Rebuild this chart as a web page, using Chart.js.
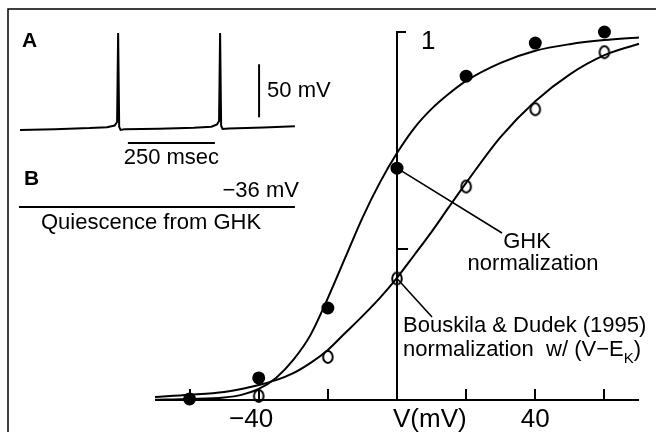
<!DOCTYPE html>
<html>
<head>
<meta charset="utf-8">
<script src="https://cdn.jsdelivr.net/npm/chart.js@4.4.1/dist/chart.umd.min.js"></script>
<style>
  html, body { margin: 0; padding: 0; background: #fff; }
  #wrap { position: relative; width: 656px; height: 432px; overflow: hidden; }
  #wrap canvas { position: absolute; left: 0; top: 0; }
</style>
</head>
<body>
<div id="wrap">
  <canvas id="mainChart" width="656" height="432"></canvas>
  <canvas id="traceA" width="656" height="432"></canvas>
  <canvas id="traceB" width="656" height="432"></canvas>
</div>
<script>
// Normalized conductance vs voltage (main plot)
var ghkVoltages = [-60, -40, -20, 0, 20, 40, 60];
var ghkPoints   = [0.003, 0.06, 0.25, 0.63, 0.88, 0.97, 1.0];
var bdVoltages  = [-40, -20, 0, 20, 40, 60];
var bdPoints    = [0.011, 0.117, 0.33, 0.58, 0.79, 0.945];

// fitted curves
var curveV   = [-70, -60, -50, -45, -40, -35, -30, -25, -20, -15, -10, -5, 0, 5, 10, 15, 20, 30, 40, 50, 60, 70];
var ghkCurve = [0.001, 0.003, 0.007, 0.014, 0.030, 0.060, 0.109, 0.177, 0.277, 0.386, 0.495, 0.590,
                0.671, 0.739, 0.791, 0.832, 0.867, 0.916, 0.949, 0.967, 0.978, 0.985];
var bdCurve  = [0.008, 0.014, 0.022, 0.030, 0.041, 0.054, 0.073, 0.101, 0.136, 0.182, 0.228, 0.277,
                0.332, 0.394, 0.457, 0.524, 0.590, 0.715, 0.812, 0.885, 0.937, 0.968];

var xTicks      = [-60, -40, -20, 0, 20, 40, 60];
var xTickLabels = { '-40': '\u221240', '40': '40' };
var yTicks      = [0.41, 1];
var yTickLabels = { '1': '1' };

// Panel A: membrane potential trace (msec, mV)
var traceTime = [0, 100, 200, 250, 272, 279, 282, 285, 289, 300, 400, 500, 550, 566, 572, 575, 578, 582, 600, 700, 790];
var traceMv   = [-60, -59.2, -58.2, -57.3, -55.8, -52.5, 31.5, -57, -60, -59.4, -58.8, -57.8, -56.9, -54.8, -51.5, 31.5,
                 -56, -59, -58.6, -57.6, -56.5];
var barTime     = 687;    // position of the 50 mV bar
var barMvBottom = -48;
var barMvSize   = 50;
var barMsStart  = 310;    // 250 msec bar
var barMsSize   = 250;
var barMsLevel  = -72.3;

// Panel B: quiescent potential
var quietTime = [-3, 790];
var quietMv   = [-36, -36];

var FONT = '"Liberation Sans", Arial, Helvetica, sans-serif';

function pts(xs, ys) {
  return xs.map(function(x, i) { return { x: x, y: ys[i] }; });
}

// open circle marker (slightly taller than wide, like in the figure)
var openMarker = document.createElement('canvas');
openMarker.width = 14;
openMarker.height = 16;
(function() {
  var c = openMarker.getContext('2d');
  c.strokeStyle = '#000';
  c.lineWidth = 2;
  c.beginPath();
  c.ellipse(7, 8, 4.8, 5.9, 0, 0, Math.PI * 2);
  c.stroke();
})();

// axes, frame and labels for the main plot
var mainDecor = {
  id: 'mainDecor',
  beforeDatasetsDraw: function(chart) {
    var ctx = chart.ctx, xs = chart.scales.x, ys = chart.scales.y, a = chart.chartArea;
    var x0 = xs.getPixelForValue(0), y0 = ys.getPixelForValue(0);
    ctx.save();
    ctx.strokeStyle = '#000';
    ctx.fillStyle = '#000';

    // figure frame (top and left)
    ctx.lineWidth = 1.5;
    ctx.beginPath();
    ctx.moveTo(8, 432);
    ctx.lineTo(8, 9);
    ctx.lineTo(656, 9);
    ctx.stroke();

    // x axis
    ctx.lineWidth = 2;
    ctx.beginPath();
    ctx.moveTo(a.left, y0);
    ctx.lineTo(a.right, y0);
    xTicks.forEach(function(v) {
      var px = Math.round(xs.getPixelForValue(v));
      ctx.moveTo(px, y0);
      ctx.lineTo(px, y0 - 11);
    });
    // y axis
    ctx.moveTo(x0, y0);
    ctx.lineTo(x0, ys.getPixelForValue(1));
    yTicks.forEach(function(v, i) {
      var py = ys.getPixelForValue(v);
      ctx.moveTo(x0 - 1, py);
      ctx.lineTo(x0 + (i === yTicks.length - 1 ? 9 : 11), py);
    });
    ctx.stroke();

    // tick labels
    ctx.font = '26px ' + FONT;
    ctx.textBaseline = 'alphabetic';
    xTicks.forEach(function(v) {
      var t = xTickLabels[String(v)];
      if (!t) return;
      var px = xs.getPixelForValue(v);
      var dw = ctx.measureText(t.replace('\u2212', '')).width;
      ctx.textAlign = 'right';
      ctx.fillText(t, px + dw / 2, 427);
    });
    ctx.textAlign = 'left';
    ctx.fillText('V(mV)', x0 - 4, 427);
    yTicks.forEach(function(v) {
      var t = yTickLabels[String(v)];
      if (!t) return;
      ctx.fillText(t, x0 + 24, ys.getPixelForValue(v) + 17);
    });

    // leader lines to the annotations
    ctx.lineWidth = 1.6;
    ctx.beginPath();
    ctx.moveTo(x0, ys.getPixelForValue(ghkPoints[3]));
    ctx.lineTo(502, 233);
    ctx.moveTo(x0, ys.getPixelForValue(bdPoints[2]));
    ctx.lineTo(432, 317);
    ctx.stroke();

    ctx.font = '22px ' + FONT;
    ctx.textAlign = 'center';
    ctx.fillText('GHK', 527, 248);
    ctx.fillText('normalization', 533, 270);
    ctx.textAlign = 'left';
    ctx.fillText('Bouskila & Dudek (1995)', 403, 332);
    var line2 = 'normalization  w/ (V\u2212E';
    ctx.fillText(line2, 403, 356);
    var w2 = ctx.measureText(line2).width;
    ctx.font = '15px ' + FONT;
    ctx.fillText('K', 403 + w2, 363);
    var wk = ctx.measureText('K').width;
    ctx.font = '22px ' + FONT;
    ctx.fillText(')', 403 + w2 + wk, 356);
    ctx.restore();
  }
};

var lineDefaults = { showLine: true, pointRadius: 0, borderColor: '#000', borderWidth: 2, clip: false };

new Chart(document.getElementById('mainChart'), {
  type: 'scatter',
  data: {
    datasets: [
      { data: pts(ghkVoltages, ghkPoints), showLine: false, pointRadius: 6.5, pointBackgroundColor: '#000',
        pointBorderWidth: 0, clip: false },
      { data: pts(bdVoltages, bdPoints), showLine: false, pointStyle: openMarker, pointRadius: 6, clip: false },
      Object.assign({ data: pts(curveV, ghkCurve), cubicInterpolationMode: 'monotone' }, lineDefaults),
      Object.assign({ data: pts(curveV, bdCurve), cubicInterpolationMode: 'monotone' }, lineDefaults)
    ]
  },
  options: {
    responsive: false,
    animation: false,
    devicePixelRatio: 1,
    events: [],
    layout: { padding: { left: 155, right: 17, top: 32, bottom: 32 } },
    scales: {
      x: { type: 'linear', min: -70, max: 70, display: false },
      y: { type: 'linear', min: 0, max: 1, display: false }
    },
    plugins: { legend: { display: false }, tooltip: { enabled: false } }
  },
  plugins: [mainDecor]
});

// Panel A labels
var panelADecor = {
  id: 'panelADecor',
  afterDatasetsDraw: function(chart) {
    var ctx = chart.ctx, xs = chart.scales.x;
    ctx.save();
    ctx.fillStyle = '#000';
    ctx.textBaseline = 'alphabetic';
    ctx.font = 'bold 21px ' + FONT;
    ctx.textAlign = 'left';
    ctx.fillText('A', 22, 47);
    ctx.font = '22px ' + FONT;
    ctx.fillText('50 mV', xs.getPixelForValue(barTime) + 8, 97);
    ctx.textAlign = 'center';
    ctx.fillText('250 msec', xs.getPixelForValue(barMsStart + barMsSize / 2), 164);
    ctx.restore();
  }
};

new Chart(document.getElementById('traceA'), {
  type: 'scatter',
  data: {
    datasets: [
      Object.assign({ data: pts(traceTime, traceMv), tension: 0 }, lineDefaults),
      Object.assign({ data: [{ x: barTime, y: barMvBottom }, { x: barTime, y: barMvBottom + barMvSize }] }, lineDefaults),
      Object.assign({ data: [{ x: barMsStart, y: barMsLevel }, { x: barMsStart + barMsSize, y: barMsLevel }] }, lineDefaults)
    ]
  },
  options: {
    responsive: false,
    animation: false,
    devicePixelRatio: 1,
    events: [],
    layout: { padding: { left: 20, right: 357.6, top: 24, bottom: 280.8 } },
    scales: {
      x: { type: 'linear', min: 0, max: 800, display: false },
      y: { type: 'linear', min: -80, max: 40, display: false }
    },
    plugins: { legend: { display: false }, tooltip: { enabled: false } }
  },
  plugins: [panelADecor]
});

// Panel B labels
var panelBDecor = {
  id: 'panelBDecor',
  afterDatasetsDraw: function(chart) {
    var ctx = chart.ctx, xs = chart.scales.x;
    ctx.save();
    ctx.fillStyle = '#000';
    ctx.textBaseline = 'alphabetic';
    ctx.font = 'bold 21px ' + FONT;
    ctx.textAlign = 'left';
    ctx.fillText('B', 24, 185);
    ctx.font = '22px ' + FONT;
    ctx.textAlign = 'right';
    ctx.fillText('\u2212' + Math.abs(quietMv[0]) + ' mV', xs.getPixelForValue(quietTime[1]) + 4, 197);
    ctx.textAlign = 'left';
    ctx.fillText('Quiescence from GHK', 41, 229);
    ctx.restore();
  }
};

new Chart(document.getElementById('traceB'), {
  type: 'scatter',
  data: {
    datasets: [
      Object.assign({ data: pts(quietTime, quietMv) }, lineDefaults)
    ]
  },
  options: {
    responsive: false,
    animation: false,
    devicePixelRatio: 1,
    events: [],
    layout: { padding: { left: 20, right: 357.6, top: 197, bottom: 215 } },
    scales: {
      x: { type: 'linear', min: 0, max: 800, display: false },
      y: { type: 'linear', min: -41, max: -31, display: false }
    },
    plugins: { legend: { display: false }, tooltip: { enabled: false } }
  },
  plugins: [panelBDecor]
});
</script>
</body>
</html>
